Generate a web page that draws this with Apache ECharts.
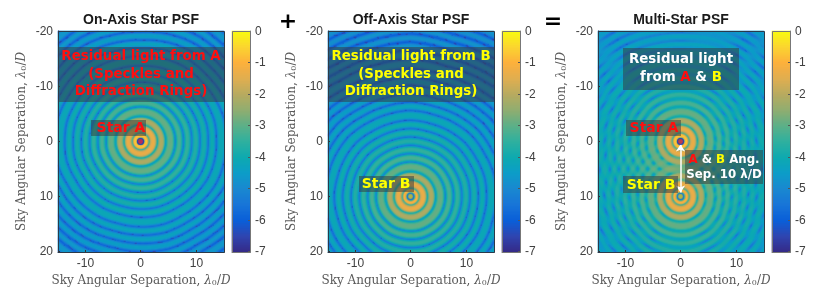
<!DOCTYPE html>
<html><head><meta charset="utf-8">
<style>html,body{margin:0;padding:0;background:#fff}#c{width:830px;height:304px}</style>
<script src="https://cdn.jsdelivr.net/npm/echarts@6/dist/echarts.min.js"></script>
</head><body><div id="c"></div>
<script>
// Values estimated by eye from the reference. Full per-pixel reading is not possible,
// so each star's image is looked up from the radial profile (0.25 unit steps).
const radialProfile = [
-6,-6,-5.4,-1.4,-0.5,-1.1,
-3.6,-2.0,-1.4,-1.3,-1.4,-2.1,
-4.0,-2.8,-2.15,-2.1,-2.15,-2.8,
-4.7,-3.6,-3.0,-2.9,-2.9,-3.0,-3.6,
-5.2,-3.95,-3.25,-3.2,-3.25,-3.95,
-5.4,-4.2,-3.5,-3.45,-3.5,-4.2,
-5.5,-4.4,-3.7,-3.65,-3.7,-4.4,
-5.6,-4.55,-3.85,-3.8,-3.85,-4.55,
-5.65,-4.7,-4.0,-3.95,-4.0,-4.7,
-5.7,-4.85,-4.15,-4.1,-4.1,-4.15,-4.85,
-5.75,-4.95,-4.25,-4.2,-4.25,-4.95,
-5.8,-5.05,-4.35,-4.3,-4.35,-5.05,
-5.85,-5.15,-4.45,-4.4,-4.45,-5.15,
-5.9,-5.25,-4.55,-4.5,-4.55,-5.25,
-5.9,-5.35,-4.65,-4.6,-4.65,-5.35,
-5.95,-5.4,-4.7,-4.65,-4.65,-4.7,-5.4,
-6.0,-5.45,-4.75,-4.7,-4.75,-5.45,
-6.0,-5.5,-4.8,-4.75,-4.8,-5.5,
-6.0,-5.5,-4.8,-4.75,-4.8,-5.5,
-6.0,-5.5,-4.8,-4.75,-4.8,-5.5,
-6.0,-5.5,-4.85,-4.8,-4.85,-5.5,
-6.0,-5.5,-4.85,-4.8,-4.8,-4.85,-5.5,
-6.0,-5.5,-4.9,-4.85,-4.9,-5.5];
const coreB = [-2.3,-2.6,-5.3,-3.0,-1.0,-1.1];
const ringWobbleA = [.2,-.1,.3,.05,-.25,.15,.35,-.1,-.3,.2,.1,-.2,.3,-.05,-.3,.1,.3,-.15,.05,.25,-.2,-.1,.3,-.25];
const ringWobbleB = [-.2,.25,0,-.3,.2,.1,-.2,.3,.05,-.25,.2,-.1,.15,.3,-.2,-.05,.25,-.3,.1,.2,-.25,.3,-.1,.05];
const speckleSpacing = 4;
const starA = [0, 0];
const starB = [0, 10];
const xTicks = [-10, 0, 10];
const yTicks = [-20, -10, 0, 10, 20];
const colorTicks = [0, -1, -2, -3, -4, -5, -6, -7];
const W = 166, H = 221, BW = 18, top0 = 31;
const xCells = [], yCells = [], barCells = [];
for (let i = 0; i < W; i++) xCells.push(-15 + (i + 0.5) * 30 / W);
for (let j = 0; j < H; j++) yCells.push(-20 + (j + 0.5) * 40 / H);
for (let k = 0; k < H; k++) barCells.push(-7 + (k + 0.5) * 7 / H);
const titles = ['On-Axis Star PSF', 'Off-Axis Star PSF', 'Multi-Star PSF'];
const parula = ['#352a87','#3045b0','#0a5fd8','#1875d8','#1a88d0','#0d9dc8','#0eaab0','#2fb09f','#5cb088','#90ad70','#b8ab60','#e0ae50','#fdb03c','#fbd530','#f9fb0e'];

function starLevel(x, y, star, wob, core) {
  const dx = x - star[0], dy = y - star[1];
  const r = Math.hypot(dx, dy);
  const a = (Math.atan2(dy, dx) + Math.PI) / (2 * Math.PI) * wob.length;
  const i0 = Math.floor(a) % wob.length, i1 = (i0 + 1) % wob.length, f = a - Math.floor(a);
  const w = (wob[i0] * (1 - f) + wob[i1] * f) * Math.min(1.2, (r / 25) * (r / 25));
  const pos = Math.max(0, (r + w) / 0.25);
  const k = Math.min(radialProfile.length - 2, Math.floor(pos)), t = Math.min(1, pos - k);
  const at = i => (core && i < core.length) ? core[i] : radialProfile[i];
  let v = at(k) * (1 - t) + at(k + 1) * t;
  if (v < -5.4 && r > 3) {
    const arc = (a / wob.length * 2 * Math.PI * r + k * 1.3) / speckleSpacing;
    if (arc - Math.floor(arc) < 0.12) v -= 0.7;
  }
  return v;
}
const cellsA = [], cellsB = [], cellsAB = [];
xCells.forEach((x, i) => yCells.forEach((y, j) => {
  const a = starLevel(x, y, starA, ringWobbleA, null);
  const b = starLevel(x, y, starB, ringWobbleB, coreB);
  cellsA.push([i, j, a]);
  cellsB.push([i, j, b]);
  cellsAB.push([i, j, Math.log10(Math.pow(10, a) + Math.pow(10, b))]);
}));
const barData = barCells.map((v, j) => [0, j, v]);
const near = (arr, v) => { let b = 0; arr.forEach((c, i) => { if (Math.abs(c - v) < Math.abs(arr[b] - v)) b = i; }); return b; };
const tickMap = (cells, ticks) => { const m = {}; ticks.forEach(t => { m[near(cells, t)] = t; }); return m; };
const xMap = tickMap(xCells, xTicks), yMap = tickMap(yCells, yTicks), barMap = tickMap(barCells, colorTicks);
const xIndex = v => near(xCells, v);
const yIndex = v => near(yCells, v);

const panelLeft = [58, 328, 598], barLeft = [232, 502, 772];
const tickFont = {color:'#404040', fontFamily:'Liberation Sans', fontSize:12};
const nameRich = {
  t:{fontFamily:'DejaVu Serif', fontSize:12, color:'#5a5a5a'},
  i:{fontFamily:'DejaVu Serif', fontStyle:'italic', fontSize:12, color:'#5a5a5a'},
  s:{fontFamily:'DejaVu Serif', fontSize:8, color:'#5a5a5a', verticalAlign:'bottom'}
};
const axisName = '{t|Sky Angular Separation, }{i|λ}{s|0}{t|/}{i|D}';
const grid = [], xAxis = [], yAxis = [], series = [];
const heat = [cellsA, cellsB, cellsAB];
const dots = [[starA], [starB], [starA, starB]];
const markerStyle = s => s === starA
  ? {color:'#e0203a', borderColor:'#1f3fb0', borderWidth:1.2}
  : {color:'#b9b43c', borderColor:'#1f6fd0', borderWidth:1.2};
panelLeft.forEach((L, p) => {
  grid.push({left:L, top:top0, width:W, height:H});
  xAxis.push({gridIndex:2*p, type:'category', data:xCells, z:10, position:'bottom',
    axisLine:{show:true, lineStyle:{color:'#2b3a4a', width:1}},
    axisTick:{show:true, inside:true, length:2, alignWithLabel:true, interval:i=>i in xMap, lineStyle:{color:'#333'}},
    axisLabel:{...tickFont, margin:6, interval:i=>i in xMap, formatter:(v,i)=>String(xMap[i]), hideOverlap:false},
    name:axisName, nameLocation:'center', nameGap:22, nameTextStyle:{rich:nameRich}, splitLine:{show:false}});
  yAxis.push({gridIndex:2*p, type:'category', data:yCells, inverse:true, z:10,
    axisLine:{show:true, lineStyle:{color:'#2b3a4a', width:1}},
    axisTick:{show:true, inside:true, length:2, alignWithLabel:true, interval:i=>i in yMap, lineStyle:{color:'#333'}},
    axisLabel:{...tickFont, margin:5, interval:i=>i in yMap, formatter:(v,i)=>String(yMap[i]), hideOverlap:false},
    name:axisName, nameLocation:'center', nameGap:30, nameTextStyle:{rich:nameRich}, splitLine:{show:false}});
  grid.push({left:barLeft[p], top:top0, width:BW, height:H});
  xAxis.push({gridIndex:2*p+1, type:'category', data:[0], axisLine:{show:true, lineStyle:{color:'#888'}}, axisTick:{show:false}, axisLabel:{show:false}, z:10});
  yAxis.push({gridIndex:2*p+1, type:'category', data:barCells, position:'right', z:10,
    axisLine:{show:true, lineStyle:{color:'#888'}},
    axisTick:{show:true, inside:true, length:2, alignWithLabel:true, interval:i=>i in barMap, lineStyle:{color:'#555'}},
    axisLabel:{...tickFont, margin:5, interval:i=>i in barMap, formatter:(v,i)=>String(barMap[i])}});
});
panelLeft.forEach((L, p) => {
  const s = {type:'heatmap', xAxisIndex:2*p, yAxisIndex:2*p, data:heat[p], progressive:0, silent:true, animation:false};
  if (p === 2) s.markLine = {silent:true, animation:false, symbol:['arrow','arrow'], symbolSize:7, label:{show:false},
    lineStyle:{color:'#ffffff', width:1.5, type:'solid'},
    data:[[{coord:[xIndex(starA[0]), yIndex(starA[1]+0.6)]},{coord:[xIndex(starB[0]), yIndex(starB[1]-0.8)]}]]};
  series.push(s);
  series.push({type:'heatmap', xAxisIndex:2*p+1, yAxisIndex:2*p+1, data:barData, progressive:0, silent:true, animation:false});
});
panelLeft.forEach((L, p) => dots[p].forEach(st => series.push({type:'scatter', xAxisIndex:2*p, yAxisIndex:2*p, silent:true, animation:false, z:6,
  symbolSize:6, itemStyle:markerStyle(st), data:[[xIndex(st[0]), yIndex(st[1])]]})));

const band = 'rgba(52,60,66,0.52)';
const T = 'DejaVu Sans';
const rect = (x,y,w,h) => ({type:'rect', z:60, silent:true, shape:{x,y,width:w,height:h}, style:{fill:band}});
const txt = (x,y,text,fill,size=13.4) => ({type:'text', z:70, silent:true, style:{x,y,text,fill,align:'center',verticalAlign:'middle',font:`bold ${size}px "${T}"`}});
const rich = (x,y,text,size=13) => ({type:'text', z:70, silent:true, style:{x,y,text,align:'center',verticalAlign:'middle',
  rich:{w:{fill:'#fff',fontFamily:T,fontWeight:'bold',fontSize:size},r:{fill:'#ff0f0f',fontFamily:T,fontWeight:'bold',fontSize:size},y:{fill:'#ffff00',fontFamily:T,fontWeight:'bold',fontSize:size}}}});
const RED='#ff0f0f', YEL='#ffff00';
const elements = [
  rect(58,47,166,55), txt(141,57,'Residual light from A',RED), txt(141,75,'(Speckles and',RED), txt(141,92,'Diffraction Rings)',RED),
  rect(91,120,55,16), txt(121,128,'Star A',RED,14),
  rect(328,47,166,55), txt(411,57,'Residual light from B',YEL), txt(411,75,'(Speckles and',YEL), txt(411,92,'Diffraction Rings)',YEL),
  rect(359,176,55,16), txt(386,184,'Star B',YEL,14),
  rect(623,48,116,42), txt(681,60,'Residual light','#fff',13.4), rich(681,78,'{w|from }{r|A}{w| & }{y|B}',13.4),
  rect(626,120,55,16), txt(654,128,'Star A',RED,14),
  rect(623,176,55,17), txt(651,185,'Star B',YEL,14),
  rect(685,150,78,34), rich(724,160,'{r|A}{w| & }{y|B}{w| Ang.}',11.8), txt(724,175,'Sep. 10 λ/D','#fff',11.8),
  {type:'text', z:70, silent:true, style:{x:288,y:22,text:'+',fill:'#000',align:'center',verticalAlign:'middle',font:'bold 22px "DejaVu Sans"'}},
  {type:'text', z:70, silent:true, style:{x:553,y:22,text:'=',fill:'#000',align:'center',verticalAlign:'middle',font:'bold 22px "DejaVu Sans"'}}
];
panelLeft.forEach((L,p)=>{
  elements.push({type:'rect', z:50, silent:true, shape:{x:L+.5,y:top0+.5,width:W,height:H}, style:{fill:'none',stroke:'#2b3a4a',lineWidth:1}});
  elements.push({type:'rect', z:50, silent:true, shape:{x:barLeft[p]+.5,y:top0+.5,width:BW,height:H}, style:{fill:'none',stroke:'#777',lineWidth:1}});
  elements.push({type:'text', z:70, silent:true, style:{x:L+83,y:20,text:titles[p],fill:'#1a1a1a',align:'center',verticalAlign:'middle',font:'bold 14px "Liberation Sans"'}});
});

const chart = echarts.init(document.getElementById('c'), null, {renderer:'canvas'});
chart.setOption({
  animation:false, backgroundColor:'#fff', grid, xAxis, yAxis, series,
  visualMap:{show:false, type:'continuous', min:-7, max:0, dimension:2, seriesIndex:[0,1,2,3,4,5], inRange:{color:parula}},
  graphic:{elements}
});
</script></body></html>
